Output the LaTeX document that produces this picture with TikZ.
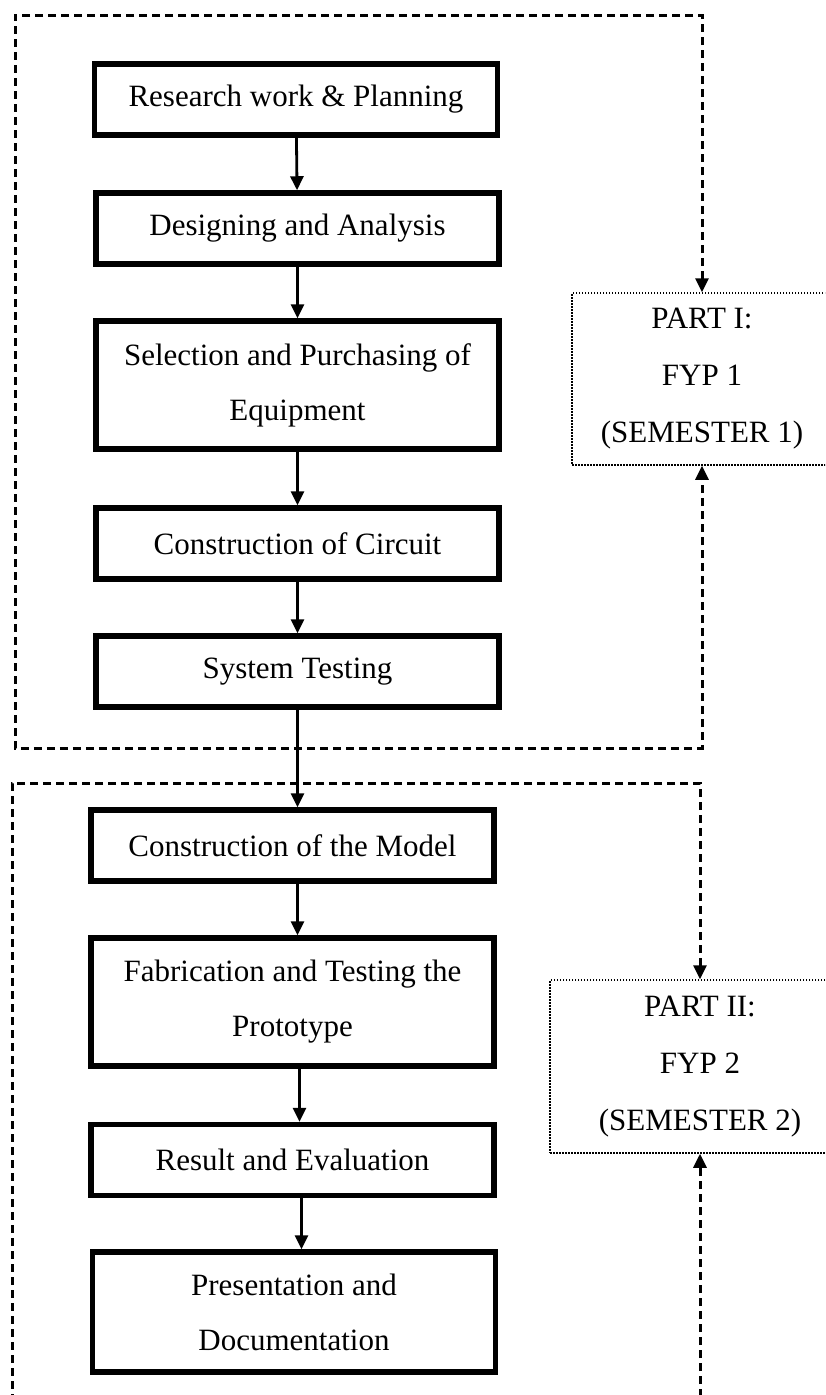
\documentclass[tikz,border=0pt]{standalone}
\usepackage{fontspec}
\setmainfont{Liberation Serif}
\usetikzlibrary{arrows.meta}
\begin{document}
\begin{tikzpicture}[x=1pt,y=-1pt,
  stepbox/.style={draw, line width=5.5pt, minimum width=403pt, minimum height=71pt,
    inner sep=0pt, align=center, font=\fontsize{31}{55}\selectfont},
  partbox/.style={draw, line width=1.5pt, dash pattern=on 1.5pt off 1.5pt,
    inner sep=0pt, align=center, font=\fontsize{31}{57}\selectfont},
  tip/.tip={Triangle[length=14pt,width=13pt]},
  flow/.style={line width=2.8pt, -tip},
  phaseframe/.style={line width=3pt, dash pattern=on 8pt off 5pt},
]
\useasboundingbox (0,0) rectangle (825,1395);
\clip (0,0) rectangle (825,1395);

% process steps
\node[stepbox] (s1) at (296,99.5) {Research work \& Planning};
\node[stepbox] (s2) at (297.5,228.5) {Designing and Analysis};
\node[stepbox, minimum height=128pt] (s3) at (297.5,385) {Selection and Purchasing of\\Equipment};
\node[stepbox] (s4) at (297.5,543.5) {Construction of Circuit};
\node[stepbox] (s5) at (297.5,671.5) {System Testing};
\node[stepbox] (s6) at (292.5,845.5) {Construction of the Model};
\node[stepbox, minimum height=128pt] (s7) at (292.5,1002) {Fabrication and Testing the\\Prototype};
\node[stepbox] (s8) at (292.5,1160) {Result and Evaluation};
\node[stepbox, minimum height=120pt] (s9) at (294,1312) {Presentation and\\Documentation};

% flow arrows
\draw[flow] (s1) -- (s2);
\draw[flow] (s2) -- (s3);
\draw[flow] (s3) -- (s4);
\draw[flow] (s4) -- (s5);
\draw[flow] (s5.south) -- (s5.south |- s6.north);
\draw[flow] ([xshift=5pt]s6.south) -- ([xshift=5pt]s6.south |- s7.north);
\draw[flow] ([xshift=7pt]s7.south) -- ([xshift=7pt]s7.south |- s8.north);
\draw[flow] ([xshift=9pt]s8.south) -- ([xshift=9pt]s8.south |- s9.north);

% phase labels
\node[partbox, minimum width=260pt, minimum height=172pt] (p1) at (702,379)
  {PART I:\\FYP 1\\(SEMESTER 1)};
\node[partbox, minimum width=300pt, minimum height=173pt] (p2) at (700,1066.5)
  {PART II:\\FYP 2\\(SEMESTER 2)};

% phase frames
\coordinate (a1) at (702,15);
\coordinate (a2) at (15,15);
\coordinate (a3) at (15,748);
\coordinate (a4) at (702,748);
\draw[phaseframe, tip-tip] (p1.north) -- (a1) -- (a2) -- (a3) -- (a4) -- (p1.south);

\coordinate (b1) at (700,783);
\coordinate (b2) at (12,783);
\coordinate (b3) at (12,1410);
\coordinate (b4) at (700,1410);
\draw[phaseframe, tip-] (p2.north) -- (b1) -- (b2) -- (b3);
\draw[phaseframe, -tip] (b4) -- (p2.south);
\end{tikzpicture}
\end{document}
